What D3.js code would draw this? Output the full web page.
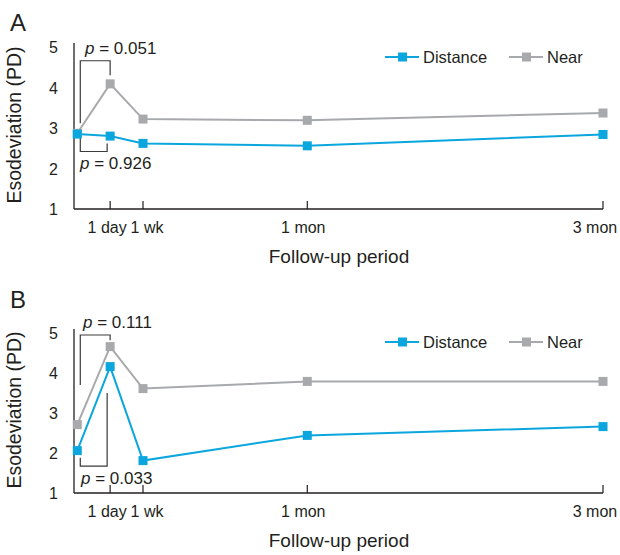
<!DOCTYPE html>
<html>
<head>
<meta charset="utf-8">
<script src="https://cdn.jsdelivr.net/npm/d3@7"></script>
<style>
  body { margin: 0; background: #fff; }
  svg { font-family: "Liberation Sans", Arial, sans-serif; }
</style>
</head>
<body>
<div id="chart"></div>
<script>
// follow-up points (x position in the chart's own units)
let periods = ["pre", "1 day", "1 wk", "1 mon", "3 mon"],
    periodX = [0, 1, 2, 7, 16],
    yTicks = [1, 2, 3, 4, 5];

// panel A
let distA = [2.85, 2.80, 2.62, 2.56, 2.84],
    nearA = [2.87, 4.09, 3.22, 3.19, 3.37];
// panel B
let distB = [2.06, 4.16, 1.81, 2.44, 2.66],
    nearB = [2.71, 4.66, 3.61, 3.79, 3.79];

// p-value brackets: [topLabel, bottomLabel]
let pA = ["0.051", "0.926"],
    pB = ["0.111", "0.033"];

let blue = "#0aa6dd", grey = "#a7a9ac", ink = "#231f20";

let svg = d3.select("#chart").append("svg")
    .attr("width", 620)
    .attr("height", 555);

function panel(opt) {
    let g = svg.append("g");
    let x = d3.scaleLinear().domain([-0.1, 16]).range([74, 603]);
    let y = d3.scaleLinear().domain([1, 5]).range([opt.bottom, opt.top]);

    // letter
    g.append("text").attr("x", 10).attr("y", opt.letterY)
        .attr("font-size", 24).attr("fill", ink).text(opt.letter);

    // axes
    g.append("line").attr("x1", 74).attr("x2", 74)
        .attr("y1", y(5) - 4).attr("y2", y(1))
        .attr("stroke", ink).attr("stroke-width", 1.3);
    g.append("line").attr("x1", 74).attr("x2", x(16))
        .attr("y1", y(1)).attr("y2", y(1))
        .attr("stroke", ink).attr("stroke-width", 1.3);

    yTicks.forEach(function (v) {
        g.append("text").attr("x", 58).attr("y", y(v) + 6)
            .attr("text-anchor", "end").attr("font-size", 16).attr("fill", ink)
            .text(v);
    });

    let shift = [0, -3, 4, -4, -8];
    periods.forEach(function (p, i) {
        if (i === 0) return;
        g.append("line").attr("x1", x(periodX[i])).attr("x2", x(periodX[i]))
            .attr("y1", y(1)).attr("y2", y(1) - 8)
            .attr("stroke", ink).attr("stroke-width", 1.2);
        g.append("text").attr("x", x(periodX[i]) + shift[i]).attr("y", y(1) + 24)
            .attr("text-anchor", "middle").attr("font-size", 16).attr("fill", ink)
            .text(p);
    });

    g.append("text").attr("x", 339).attr("y", y(1) + 54)
        .attr("text-anchor", "middle").attr("font-size", 19).attr("fill", ink)
        .text("Follow-up period");

    g.append("text")
        .attr("transform", "translate(21," + ((y(1) + y(5)) / 2 - 3) + ") rotate(-90)")
        .attr("text-anchor", "middle").attr("font-size", 19.5).attr("fill", ink)
        .text("Esodeviation (PD)");

    // brackets
    let bk = opt.brackets;
    let x0 = x(periodX[0]) + 3, x1 = x(periodX[1]);
    g.append("path")
        .attr("d", "M" + x0 + "," + y(bk.top.leftEnd) + "V" + y(bk.top.level) +
            "H" + x1 + "V" + y(bk.top.rightEnd))
        .attr("fill", "none").attr("stroke", "#3a3a3a").attr("stroke-width", 1.2);
    g.append("path")
        .attr("d", "M" + x0 + "," + y(bk.bot.leftEnd) + "V" + y(bk.bot.level) +
            "H" + (x1 - 3) + "V" + y(bk.bot.rightEnd))
        .attr("fill", "none").attr("stroke", "#3a3a3a").attr("stroke-width", 1.2);

    let topT = g.append("text").attr("x", bk.top.lx).attr("y", y(bk.top.level) - 7)
        .attr("font-size", 17).attr("fill", ink);
    topT.append("tspan").attr("font-style", "italic").text("p");
    topT.append("tspan").text(" = " + opt.p[0]);
    let botT = g.append("text").attr("x", bk.bot.lx).attr("y", y(bk.bot.level) + 18)
        .attr("font-size", 17).attr("fill", ink);
    botT.append("tspan").attr("font-style", "italic").text("p");
    botT.append("tspan").text(" = " + opt.p[1]);

    // series
    let line = d3.line().x(function (d, i) { return x(periodX[i]); })
        .y(function (d) { return y(d); });
    [[opt.near, grey], [opt.dist, blue]].forEach(function (s) {
        g.append("path").datum(s[0]).attr("d", line)
            .attr("fill", "none").attr("stroke", s[1]).attr("stroke-width", 2);
        g.selectAll(null).data(s[0]).enter().append("rect")
            .attr("x", function (d, i) { return x(periodX[i]) - 4.5; })
            .attr("y", function (d) { return y(d) - 4.5; })
            .attr("width", 9).attr("height", 9)
            .attr("fill", s[1]);
    });

    // legend
    let ly = opt.legendY;
    [["Distance", blue, 385], ["Near", grey, 509]].forEach(function (l) {
        g.append("line").attr("x1", l[2]).attr("x2", l[2] + 34)
            .attr("y1", ly).attr("y2", ly)
            .attr("stroke", l[1]).attr("stroke-width", 2);
        g.append("rect").attr("x", l[2] + 13).attr("y", ly - 4.5)
            .attr("width", 9).attr("height", 9).attr("fill", l[1]);
        g.append("text").attr("x", l[2] + 38).attr("y", ly + 6)
            .attr("font-size", 16.5).attr("fill", ink).text(l[0]);
    });
}

panel({
    letter: "A", letterY: 31, top: 47, bottom: 209, legendY: 57,
    dist: distA, near: nearA, p: pA,
    brackets: {
        top: { leftEnd: 3.12, level: 4.66, rightEnd: 4.3, lx: 85 },
        bot: { leftEnd: 2.78, level: 2.42, rightEnd: 2.62, lx: 80 }
    }
});

panel({
    letter: "B", letterY: 308, top: 333, bottom: 493, legendY: 342,
    dist: distB, near: nearB, p: pB,
    brackets: {
        top: { leftEnd: 3.7, level: 4.95, rightEnd: 4.82, lx: 83 },
        bot: { leftEnd: 1.88, level: 1.67, rightEnd: 3.5, lx: 81 }
    }
});
</script>
</body>
</html>
